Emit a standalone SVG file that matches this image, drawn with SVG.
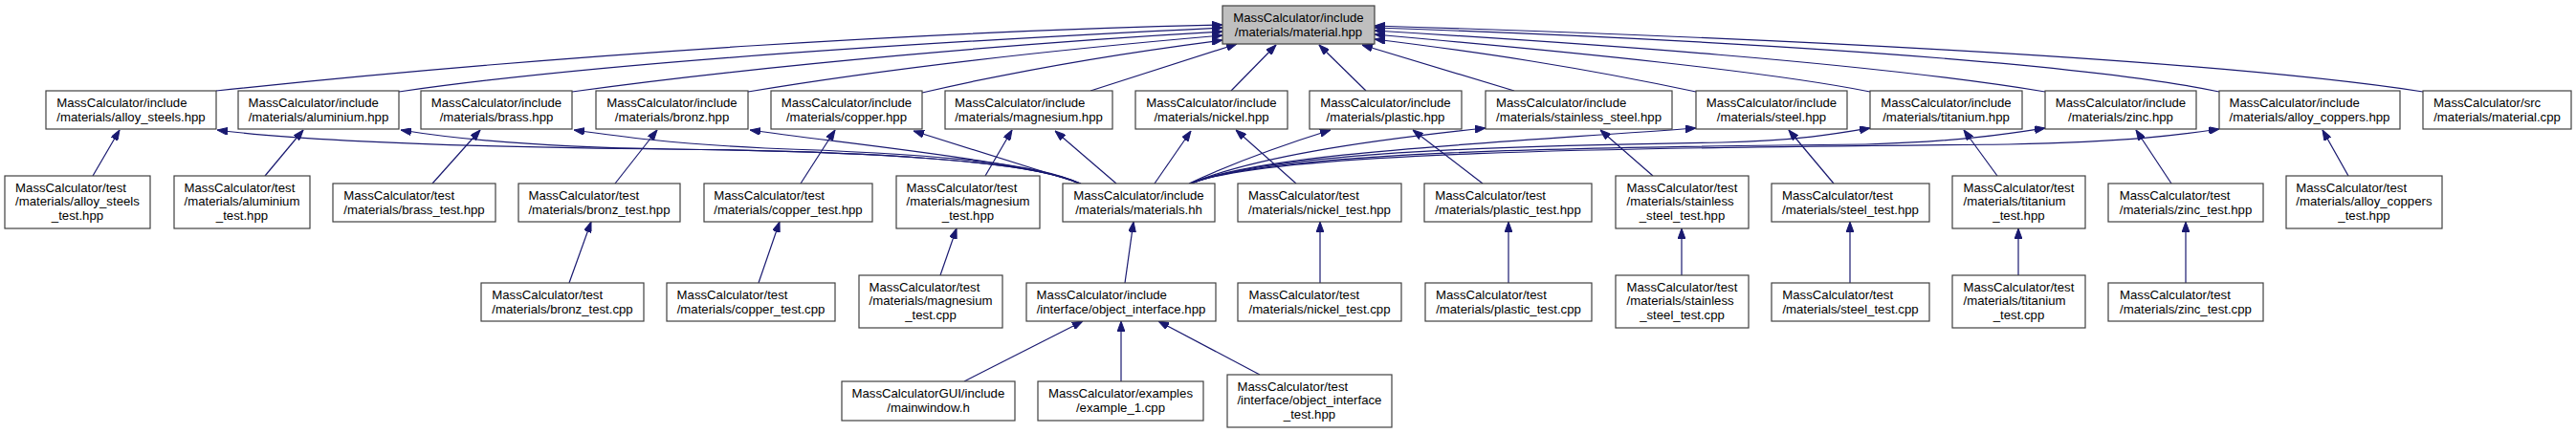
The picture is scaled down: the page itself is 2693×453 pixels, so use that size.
<svg xmlns="http://www.w3.org/2000/svg" width="2693" height="453" viewBox="0 0 2693 453">
<style>
.n rect{fill:#ffffff;stroke:#404040;stroke-width:1.2}
.n text{font-family:"Liberation Sans",Arial,Helvetica,sans-serif;font-size:13.2px;fill:#000}
.n text.m{text-anchor:middle}
.e path{fill:none;stroke:#191970;stroke-width:1.2;marker-end:url(#ah)}
</style>
<defs>
<marker id="ah" viewBox="0 0 11 8" refX="11" refY="4" markerWidth="11" markerHeight="8" markerUnits="userSpaceOnUse" orient="auto">
<path d="M0,0 L11,4 L0,8 z" fill="#191970" stroke="#191970" stroke-width="1"/>
</marker>
</defs>
<rect width="2693" height="453" fill="#ffffff"/>
<g id="edges" class="e">
<!-- headers to material.hpp -->
<path d="M226,95 C600,55 1000,32 1278,26"/>
<path d="M417,96 C650,62 1050,40 1278,29"/>
<path d="M598,96 C800,68 1080,44 1278,33"/>
<path d="M782,96 C950,68 1150,48 1278,37"/>
<path d="M964,97 C1080,70 1200,52 1278,42"/>
<path d="M1140,95 L1293,46"/>
<path d="M1287,95 L1334,47"/>
<path d="M1428,95 L1379,47"/>
<path d="M1583,95 L1424,47"/>
<path d="M1773,96 C1650,70 1550,55 1437,41"/>
<path d="M1955,96 C1850,75 1650,55 1437,36"/>
<path d="M2138,96 C1950,65 1650,45 1437,32"/>
<path d="M2320,96 C2150,60 1700,38 1437,29"/>
<path d="M2533,96 C2300,60 1800,38 1437,27"/>
<!-- materials.hh to headers -->
<path d="M1128,192 C1080,168 900,158 700,156 C500,154 330,149 227,136"/>
<path d="M1128,192 C1080,168 900,158 700,156 C560,154 480,146 419,136"/>
<path d="M1129,192 C1080,168 950,160 800,155 C700,150 650,143 600,136"/>
<path d="M1130,192 C1070,168 880,150 784,136"/>
<path d="M1130,192 L955,137"/>
<path d="M1167,192 L1103,137"/>
<path d="M1207,192 L1245,137"/>
<path d="M1243,192 C1290,170 1340,152 1391,136"/>
<path d="M1244,192 C1310,165 1420,148 1553,134"/>
<path d="M1245,192 C1320,160 1560,150 1773,134"/>
<path d="M1245,192 C1330,158 1600,152 1800,149 C1880,147 1920,140 1955,134"/>
<path d="M1245,192 C1330,158 1650,154 1950,151 C2050,148 2100,140 2138,134"/>
<path d="M1245,192 C1330,158 1700,155 2100,151 C2230,148 2280,141 2320,135"/>
<!-- tests to headers -->
<path d="M97,184 L125,136"/>
<path d="M277,184 L317,136"/>
<path d="M452,192 L502,136"/>
<path d="M643,192 L687,136"/>
<path d="M837,192 L873,136"/>
<path d="M1030,184 L1058,136"/>
<path d="M1355,192 L1292,136"/>
<path d="M1550,192 L1477,136"/>
<path d="M1728,184 L1673,136"/>
<path d="M1917,192 L1870,136"/>
<path d="M2088,184 L2053,136"/>
<path d="M2270,192 L2233,136"/>
<path d="M2455,184 L2428,136"/>
<!-- cpp to test hpp -->
<path d="M595,296 L618,232"/>
<path d="M793,296 L815,232"/>
<path d="M983,288 L1000,239"/>
<path d="M1380,296 L1380,232"/>
<path d="M1577,296 L1577,232"/>
<path d="M1758,288 L1758,239"/>
<path d="M1934,296 L1934,232"/>
<path d="M2110,288 L2110,239"/>
<path d="M2285,296 L2285,232"/>
<!-- interface -->
<path d="M1176,296 L1185,232"/>
<path d="M1008,399 L1132,336"/>
<path d="M1172,399 L1172,336"/>
<path d="M1317,392 L1211,336"/>
</g>

<g id="n_material" class="n"><rect x="1278" y="6" width="159" height="40" style="fill:#bfbfbf"/><text x="1289.3" y="22.5">MassCalculator/include</text><text class="m" x="1357.5" y="37.5">/materials/material.hpp</text></g>

<g id="n_alloy_steels" class="n"><rect x="48" y="95" width="178" height="40"/><text x="59.2" y="111.5">MassCalculator/include</text><text class="m" x="137" y="126.5">/materials/alloy_steels.hpp</text></g>
<g id="n_aluminium" class="n"><rect x="249" y="95" width="168" height="40"/><text x="259.6" y="111.5">MassCalculator/include</text><text class="m" x="333" y="126.5">/materials/aluminium.hpp</text></g>
<g id="n_brass" class="n"><rect x="440" y="95" width="158" height="40"/><text x="450.8" y="111.5">MassCalculator/include</text><text class="m" x="519" y="126.5">/materials/brass.hpp</text></g>
<g id="n_bronz" class="n"><rect x="623" y="95" width="159" height="40"/><text x="634.3" y="111.5">MassCalculator/include</text><text class="m" x="702.5" y="126.5">/materials/bronz.hpp</text></g>
<g id="n_copper" class="n"><rect x="806" y="95" width="158" height="40"/><text x="816.8" y="111.5">MassCalculator/include</text><text class="m" x="885" y="126.5">/materials/copper.hpp</text></g>
<g id="n_magnesium" class="n"><rect x="988" y="95" width="175" height="40"/><text x="998.1" y="111.5">MassCalculator/include</text><text class="m" x="1075.5" y="126.5">/materials/magnesium.hpp</text></g>
<g id="n_nickel" class="n"><rect x="1187" y="95" width="159" height="40"/><text x="1198.3" y="111.5">MassCalculator/include</text><text class="m" x="1266.5" y="126.5">/materials/nickel.hpp</text></g>
<g id="n_plastic" class="n"><rect x="1369" y="95" width="159" height="40"/><text x="1380.3" y="111.5">MassCalculator/include</text><text class="m" x="1448.5" y="126.5">/materials/plastic.hpp</text></g>
<g id="n_stainless_steel" class="n"><rect x="1553" y="95" width="195" height="40"/><text x="1564" y="111.5">MassCalculator/include</text><text class="m" x="1650.5" y="126.5">/materials/stainless_steel.hpp</text></g>
<g id="n_steel" class="n"><rect x="1773" y="95" width="158" height="40"/><text x="1783.8" y="111.5">MassCalculator/include</text><text class="m" x="1852" y="126.5">/materials/steel.hpp</text></g>
<g id="n_titanium" class="n"><rect x="1955" y="95" width="159" height="40"/><text x="1966.3" y="111.5">MassCalculator/include</text><text class="m" x="2034.5" y="126.5">/materials/titanium.hpp</text></g>
<g id="n_zinc" class="n"><rect x="2138" y="95" width="158" height="40"/><text x="2148.8" y="111.5">MassCalculator/include</text><text class="m" x="2217" y="126.5">/materials/zinc.hpp</text></g>
<g id="n_alloy_coppers" class="n"><rect x="2320" y="95" width="189" height="40"/><text x="2330.5" y="111.5">MassCalculator/include</text><text class="m" x="2414.5" y="126.5">/materials/alloy_coppers.hpp</text></g>
<g id="n_material_cpp" class="n"><rect x="2533" y="95" width="155" height="40"/><text x="2544.1" y="111.5">MassCalculator/src</text><text class="m" x="2610.5" y="126.5">/materials/material.cpp</text></g>

<g id="n_alloy_steels_test" class="n"><rect x="5" y="184" width="152" height="55"/><text x="16.1" y="200.5">MassCalculator/test</text><text x="16.1" y="215">/materials/alloy_steels</text><text class="m" x="81" y="229.5">_test.hpp</text></g>
<g id="n_aluminium_test" class="n"><rect x="182" y="184" width="142" height="55"/><text x="192.5" y="200.5">MassCalculator/test</text><text x="192.5" y="215">/materials/aluminium</text><text class="m" x="253" y="229.5">_test.hpp</text></g>
<g id="n_brass_test" class="n"><rect x="348" y="192" width="170" height="40"/><text x="359.3" y="208.5">MassCalculator/test</text><text class="m" x="433" y="223.5">/materials/brass_test.hpp</text></g>
<g id="n_bronz_test" class="n"><rect x="542" y="192" width="169" height="40"/><text x="552.4" y="208.5">MassCalculator/test</text><text class="m" x="626.5" y="223.5">/materials/bronz_test.hpp</text></g>
<g id="n_copper_test" class="n"><rect x="736" y="192" width="176" height="40"/><text x="746.2" y="208.5">MassCalculator/test</text><text class="m" x="824" y="223.5">/materials/copper_test.hpp</text></g>
<g id="n_magnesium_test" class="n"><rect x="937" y="184" width="150" height="55"/><text x="947.5" y="200.5">MassCalculator/test</text><text x="947.5" y="215">/materials/magnesium</text><text class="m" x="1012" y="229.5">_test.hpp</text></g>
<g id="n_materials_hh" class="n"><rect x="1111" y="192" width="159" height="40"/><text x="1122.3" y="208.5">MassCalculator/include</text><text class="m" x="1190.5" y="223.5">/materials/materials.hh</text></g>
<g id="n_nickel_test" class="n"><rect x="1294" y="192" width="171" height="40"/><text x="1305" y="208.5">MassCalculator/test</text><text class="m" x="1379.5" y="223.5">/materials/nickel_test.hpp</text></g>
<g id="n_plastic_test" class="n"><rect x="1489" y="192" width="175" height="40"/><text x="1500.2" y="208.5">MassCalculator/test</text><text class="m" x="1576.5" y="223.5">/materials/plastic_test.hpp</text></g>
<g id="n_stainless_steel_test" class="n"><rect x="1689" y="184" width="139" height="55"/><text x="1700.5" y="200.5">MassCalculator/test</text><text x="1700.5" y="215">/materials/stainless</text><text class="m" x="1758.5" y="229.5">_steel_test.hpp</text></g>
<g id="n_steel_test" class="n"><rect x="1852" y="192" width="165" height="40"/><text x="1863" y="208.5">MassCalculator/test</text><text class="m" x="1934.5" y="223.5">/materials/steel_test.hpp</text></g>
<g id="n_titanium_test" class="n"><rect x="2041" y="184" width="139" height="55"/><text x="2052.5" y="200.5">MassCalculator/test</text><text x="2052.5" y="215">/materials/titanium</text><text class="m" x="2110.5" y="229.5">_test.hpp</text></g>
<g id="n_zinc_test" class="n"><rect x="2204" y="192" width="162" height="40"/><text x="2215.7" y="208.5">MassCalculator/test</text><text class="m" x="2285" y="223.5">/materials/zinc_test.hpp</text></g>
<g id="n_alloy_coppers_test" class="n"><rect x="2390" y="184" width="163" height="55"/><text x="2400.3" y="200.5">MassCalculator/test</text><text x="2400.3" y="215">/materials/alloy_coppers</text><text class="m" x="2471.5" y="229.5">_test.hpp</text></g>

<g id="n_bronz_test_cpp" class="n"><rect x="503" y="296" width="170" height="40"/><text x="514.3" y="312.5">MassCalculator/test</text><text class="m" x="588" y="327.5">/materials/bronz_test.cpp</text></g>
<g id="n_copper_test_cpp" class="n"><rect x="697" y="296" width="176" height="40"/><text x="707.6" y="312.5">MassCalculator/test</text><text class="m" x="785" y="327.5">/materials/copper_test.cpp</text></g>
<g id="n_magnesium_test_cpp" class="n"><rect x="898" y="288" width="150" height="55"/><text x="908.5" y="304.5">MassCalculator/test</text><text x="908.5" y="319">/materials/magnesium</text><text class="m" x="973" y="333.5">_test.cpp</text></g>
<g id="n_object_interface" class="n"><rect x="1073" y="296" width="198" height="40"/><text x="1083.6" y="312.5">MassCalculator/include</text><text class="m" x="1172" y="327.5">/interface/object_interface.hpp</text></g>
<g id="n_nickel_test_cpp" class="n"><rect x="1294" y="296" width="171" height="40"/><text x="1305.4" y="312.5">MassCalculator/test</text><text class="m" x="1379.5" y="327.5">/materials/nickel_test.cpp</text></g>
<g id="n_plastic_test_cpp" class="n"><rect x="1490" y="296" width="174" height="40"/><text x="1501" y="312.5">MassCalculator/test</text><text class="m" x="1577" y="327.5">/materials/plastic_test.cpp</text></g>
<g id="n_stainless_steel_test_cpp" class="n"><rect x="1689" y="288" width="139" height="55"/><text x="1700.5" y="304.5">MassCalculator/test</text><text x="1700.5" y="319">/materials/stainless</text><text class="m" x="1758.5" y="333.5">_steel_test.cpp</text></g>
<g id="n_steel_test_cpp" class="n"><rect x="1852" y="296" width="165" height="40"/><text x="1863.3" y="312.5">MassCalculator/test</text><text class="m" x="1934.5" y="327.5">/materials/steel_test.cpp</text></g>
<g id="n_titanium_test_cpp" class="n"><rect x="2041" y="288" width="139" height="55"/><text x="2052.5" y="304.5">MassCalculator/test</text><text x="2052.5" y="319">/materials/titanium</text><text class="m" x="2110.5" y="333.5">_test.cpp</text></g>
<g id="n_zinc_test_cpp" class="n"><rect x="2204" y="296" width="162" height="40"/><text x="2216" y="312.5">MassCalculator/test</text><text class="m" x="2285" y="327.5">/materials/zinc_test.cpp</text></g>

<g id="n_mainwindow" class="n"><rect x="880" y="399" width="181" height="41"/><text x="890.5" y="415.5">MassCalculatorGUI/include</text><text class="m" x="970.5" y="430.5">/mainwindow.h</text></g>
<g id="n_example_1" class="n"><rect x="1085" y="399" width="173" height="41"/><text x="1096" y="415.5">MassCalculator/examples</text><text class="m" x="1171.5" y="430.5">/example_1.cpp</text></g>
<g id="n_object_interface_test" class="n"><rect x="1283" y="392" width="172" height="55"/><text x="1293.4" y="408.5">MassCalculator/test</text><text x="1293.4" y="423">/interface/object_interface</text><text class="m" x="1369" y="437.5">_test.hpp</text></g>
</svg>
